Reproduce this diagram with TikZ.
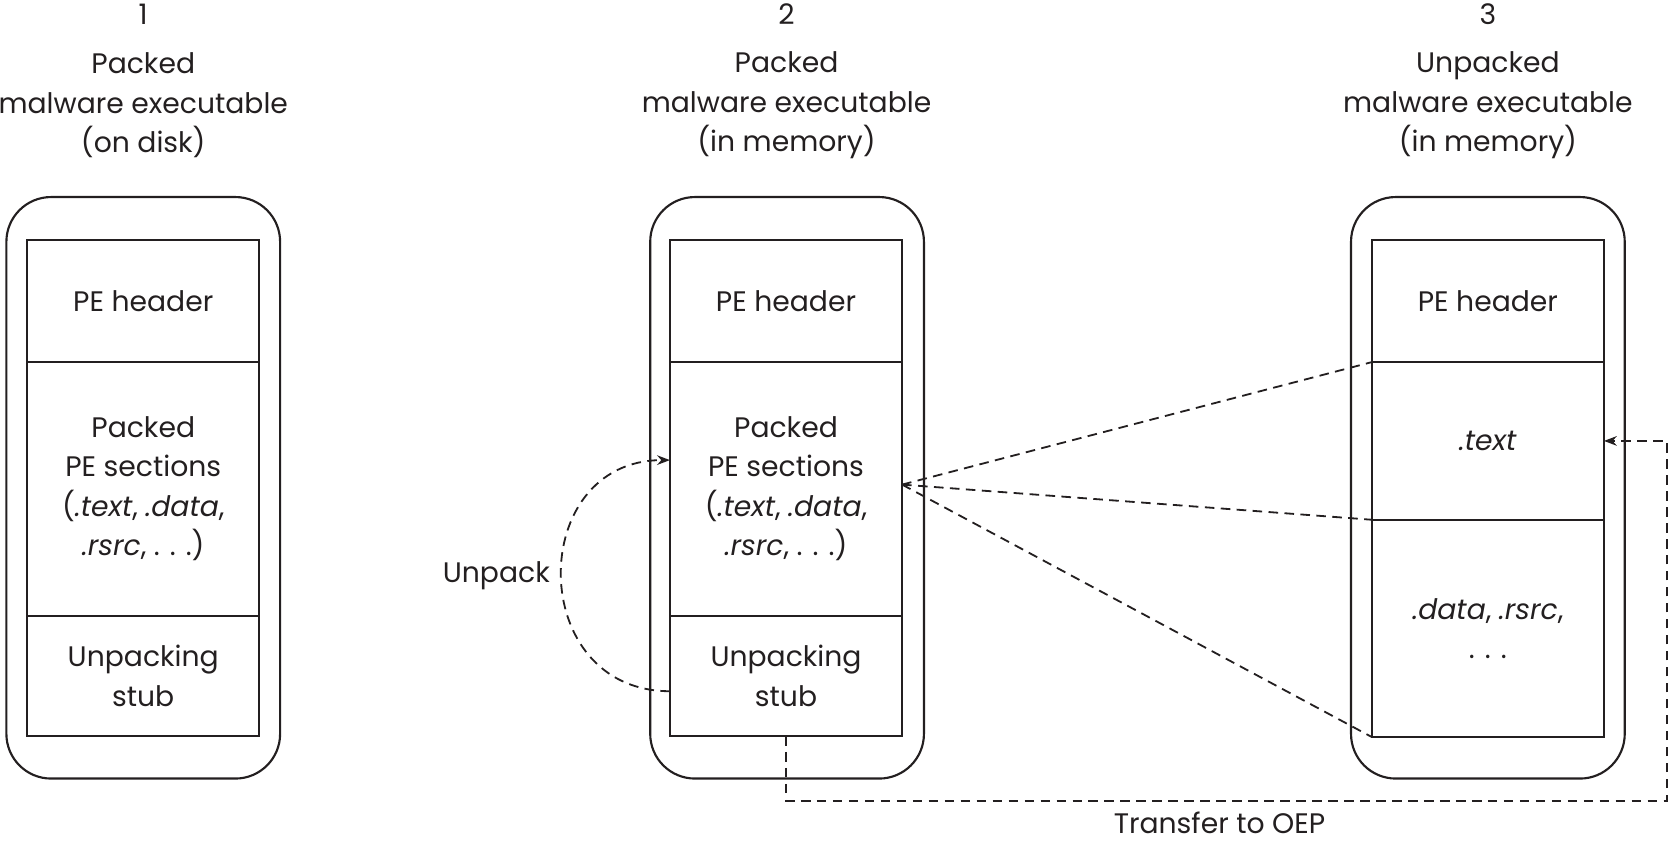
\documentclass[tikz,border=0pt]{standalone}
\usepackage{fontspec}
\setmainfont{Poppins}
\usepackage{tikz}
\usetikzlibrary{arrows.meta, positioning}

\definecolor{tinta}{HTML}{231F20}

\tikzset{
  caixa/.style={draw=tinta, line width=2pt, rounded corners=42pt, minimum width=257pt, minimum height=546pt, inner sep=0pt, outer sep=0pt},
  secao/.style={draw=tinta, line width=2pt, minimum width=218pt, inner sep=0pt, outer sep=0pt, align=center},
  titulo/.style={align=center},
  ligacao/.style={draw=tinta, line width=1.7pt, dash pattern=on 9pt off 6pt},
  ponta/.style={-{Stealth[length=12pt, width=9pt]}},
}

\begin{document}
\begin{tikzpicture}[x=1pt, y=-1pt, font=\fontsize{26.5}{37}\selectfont, text=tinta]
  \useasboundingbox (0,0) rectangle (1568,792.5);

  % Primeira coluna
  \node[titulo] (n1) at (134.5,13) {1};
  \node[titulo] (t1) at (134.5,99) {Packed\\malware executable\\(on disk)};
  \node[caixa] (disco) at (134.5,458) {};
  \node[secao, minimum height=115pt] (cab1) at (134.5,282.5) {PE header};
  \node[secao, minimum height=238pt, below=0pt of cab1] (sec1) {Packed\\PE sections\\(\textit{.text}, \textit{.data},\\\textit{.rsrc}, . . .)};
  \node[secao, minimum height=113pt, below=0pt of sec1] (stub1) {Unpacking\\stub};

  % Segunda coluna
  \node[titulo] (n2) at (738.5,13) {2};
  \node[titulo] (t2) at (738.5,99) {Packed\\malware executable\\(in memory)};
  \node[caixa] (mem2) at (739,458) {};
  \node[secao, minimum height=115pt] (cab2) at (738,282.5) {PE header};
  \node[secao, minimum height=238pt, below=0pt of cab2] (sec2) {Packed\\PE sections\\(\textit{.text}, \textit{.data},\\\textit{.rsrc}, . . .)};
  \node[secao, minimum height=113pt, below=0pt of sec2] (stub2) {Unpacking\\stub};

  % Terceira coluna
  \node[titulo] (n3) at (1397,13) {3};
  \node[titulo] (t3) at (1397,99) {Unpacked\\malware executable\\(in memory)};
  \node[caixa] (mem3) at (1397,458) {};
  \node[secao, minimum height=115pt] (cab3) at (1397,282.5) {PE header};
  \node[secao, minimum height=148pt, below=0pt of cab3] (txt3) {\textit{.text}};
  \node[secao, minimum height=204pt, below=0pt of txt3] (dat3) {\textit{.data}, \textit{.rsrc},\\. . .};

  % Unpack
  \node (unpack) at (466,541) {Unpack};
  \draw[ligacao, ponta] ([yshift=-14.5pt]stub2.west) to[out=180, in=180, looseness=1.6] ([yshift=27pt]sec2.west);

  % Secoes desempacotadas
  \coordinate (leque) at ([yshift=4pt]sec2.east);
  \draw[ligacao] (leque) -- (cab3.south west);
  \draw[ligacao] (leque) -- (txt3.south west);
  \draw[ligacao] (leque) -- (dat3.south west);

  % Transfer to OEP
  \coordinate (oep) at (1565,752);
  \draw[ligacao, ponta] (stub2.south) |- (oep) |- (txt3.east);
  \node (transf) at (1145,773) {Transfer to OEP};
\end{tikzpicture}
\end{document}
